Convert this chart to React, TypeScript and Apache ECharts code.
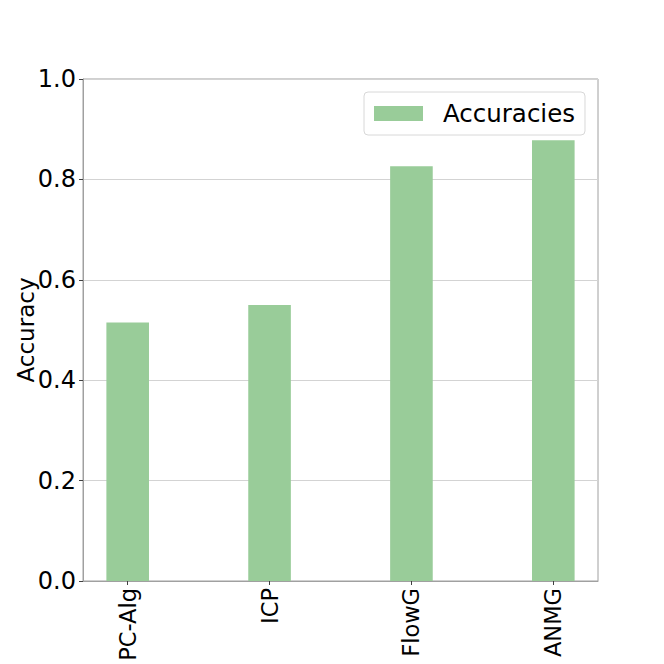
import React, { useEffect, useRef } from "react";
import * as echarts from "echarts";

const categories = ["PC-Alg", "ICP", "FlowG", "ANMG"];
const accuracies = [0.515, 0.55, 0.826, 0.878];
const seriesName = "Accuracies";
const yTicks = [0, 0.2, 0.4, 0.6, 0.8, 1.0];

const FONT = "DejaVu Sans";

export default function App() {
  const ref = useRef<HTMLDivElement>(null);
  useEffect(() => {
    if (!ref.current) return;
    const chart = echarts.init(ref.current, undefined, { renderer: "svg" });
    const catIdx = categories.map((_, i) => i);
    chart.setOption({
      animation: false,
      backgroundColor: "#ffffff",
      textStyle: { fontFamily: FONT },
      grid: {
        left: 83,
        top: 79,
        right: 66,
        bottom: 83,
        containLabel: false,
        outerBoundsMode: "none",
        show: true,
        borderColor: "#a0a0a0",
        borderWidth: 1,
        backgroundColor: "transparent",
      },
      legend: {
        show: true,
        data: [seriesName],
        left: 364,
        top: 92,
        orient: "vertical",
        itemWidth: 49,
        itemHeight: 15,
        padding: [9, 10, 9, 10],
        borderColor: "#d8d8d8",
        borderWidth: 1,
        borderRadius: 4,
        backgroundColor: "rgba(255,255,255,0.8)",
        textStyle: {
          fontFamily: FONT,
          fontSize: 24.5,
          color: "#000",
          padding: [0, 0, 0, 15],
        },
        icon: "rect",
      },
      xAxis: {
        type: "value",
        min: -0.315,
        max: 3.315,
        splitLine: { show: false },
        axisLine: { show: true, onZero: false, lineStyle: { color: "#a0a0a0" } },
        axisTick: {
          show: true,
          customValues: catIdx,
          length: 4,
          inside: false,
          lineStyle: { color: "#404040" },
        },
        axisLabel: {
          customValues: catIdx,
          rotate: 90,
          margin: 7,
          fontSize: 22.5,
          color: "#000",
          fontFamily: FONT,
          formatter: (v: number) => {
            const i = Math.round(v);
            return Math.abs(v - i) < 1e-6 && categories[i] ? categories[i] : "";
          },
        },
      },
      yAxis: {
        type: "value",
        min: 0,
        max: 1,
        interval: 0.2,
        name: "Accuracy",
        nameLocation: "middle",
        nameGap: 46,
        nameMoveOverlap: false,
        nameTextStyle: { fontSize: 23, color: "#000", fontFamily: FONT },
        axisLine: { show: true, onZero: false, lineStyle: { color: "#a0a0a0" } },
        axisTick: { show: true, length: 4, lineStyle: { color: "#404040" } },
        axisLabel: {
          margin: 7,
          fontSize: 24,
          color: "#000",
          fontFamily: FONT,
          customValues: yTicks,
          formatter: (v: number) => v.toFixed(1),
        },
        splitLine: { show: true, lineStyle: { color: "#d3d3d3", width: 1 } },
      },
      series: [
        {
          name: seriesName,
          type: "bar",
          barWidth: 42.6,
          itemStyle: { color: "#99cc99" },
          data: accuracies.map((v, i) => [i, v]),
        },
      ],
    });
    return () => chart.dispose();
  }, []);
  return <div ref={ref} style={{ width: 664, height: 664, position: "absolute", left: 0, top: 0 }} />;
}
